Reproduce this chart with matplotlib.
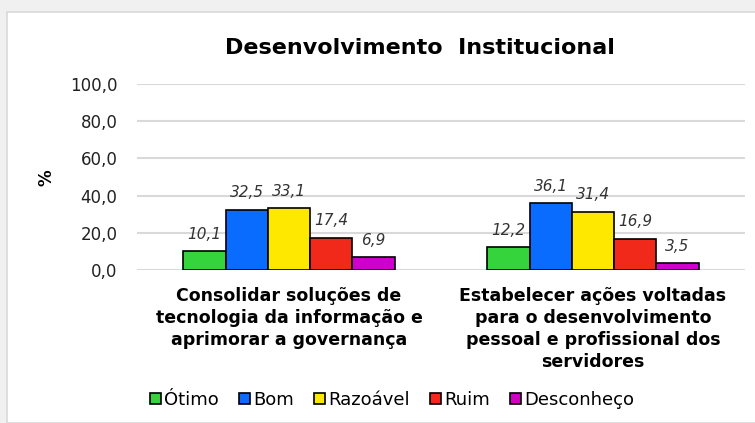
import matplotlib
matplotlib.use("Agg")
import matplotlib.pyplot as plt
from matplotlib.patches import Rectangle, Patch
import numpy as np

categories = ["Consolidar soluções de\ntecnologia da informação e\naprimorar a governança",
              "Estabelecer ações voltadas\npara o desenvolvimento\npessoal e profissional dos\nservidores"]
series = ["Ótimo", "Bom", "Razoável", "Ruim", "Desconheço"]
values = {
    "Ótimo": [10.1, 12.2],
    "Bom": [32.5, 36.1],
    "Razoável": [33.1, 31.4],
    "Ruim": [17.4, 16.9],
    "Desconheço": [6.9, 3.5],
}
colors = ["#36d43c", "#0a6cff", "#ffe800", "#f0291a", "#d000cc"]
yticks = [0, 20, 40, 60, 80, 100]

fig = plt.figure(figsize=(7.55, 4.23), dpi=100)
fig.patch.set_facecolor("#f0f0f0")
fig.patches.append(Rectangle((7/755, 0), 1, 1 - 12/423, transform=fig.transFigure,
                             facecolor="white", edgecolor="#d9d9d9", linewidth=1.2, zorder=-10))

ax = fig.add_axes([137/755, 1 - 270/423, 608/755, 186/423])
ax.set_facecolor("none")
x = np.arange(len(categories))
bw = 0.139
for i, s in enumerate(series):
    pos = x + (i - 2) * bw
    ax.bar(pos, values[s], width=bw, color=colors[i], edgecolor="black",
           linewidth=1.2, zorder=3, label=s)
    for p, v in zip(pos, values[s]):
        ax.annotate(f"{v:.1f}".replace(".", ","), (p, v), xytext=(0, 12),
                    textcoords="offset points", ha="center", va="center",
                    fontsize=11, style="italic", color="#333333")

ax.set_xlim(-0.5, 1.5)
ax.set_ylim(0, 100)
ax.set_yticks(yticks)
ax.set_yticklabels([f"{t:.1f}".replace(".", ",") for t in yticks], fontsize=12, color="#222222")
ax.yaxis.grid(True, color="#d9d9d9", linewidth=1.5, zorder=0)
ax.set_axisbelow(True)
ax.tick_params(axis="y", length=0, pad=14)
ax.tick_params(axis="x", length=0, pad=12)
ax.set_xticks(x)
ax.set_xticklabels(categories, fontsize=12.5, fontweight="bold", va="top", linespacing=1.3)
for sp in ax.spines.values():
    sp.set_visible(False)

fig.text(47/755, 1 - 178/423, "%", rotation=90, fontsize=12, fontweight="bold",
         ha="center", va="center")
fig.text(420/755, 1 - 48/423, "Desenvolvimento  Institucional", fontsize=16,
         fontweight="bold", ha="center", va="center")

handles = [Patch(facecolor=c, edgecolor="black", linewidth=1.2) for c in colors]
fig.legend(handles, series, loc="center", bbox_to_anchor=(392/755, 1 - 400/423),
           ncol=5, frameon=False, fontsize=13, handlelength=0.6, handleheight=0.6,
           handletextpad=0.2, columnspacing=1.1)

fig.savefig("out.png", dpi=100, facecolor=fig.get_facecolor())
